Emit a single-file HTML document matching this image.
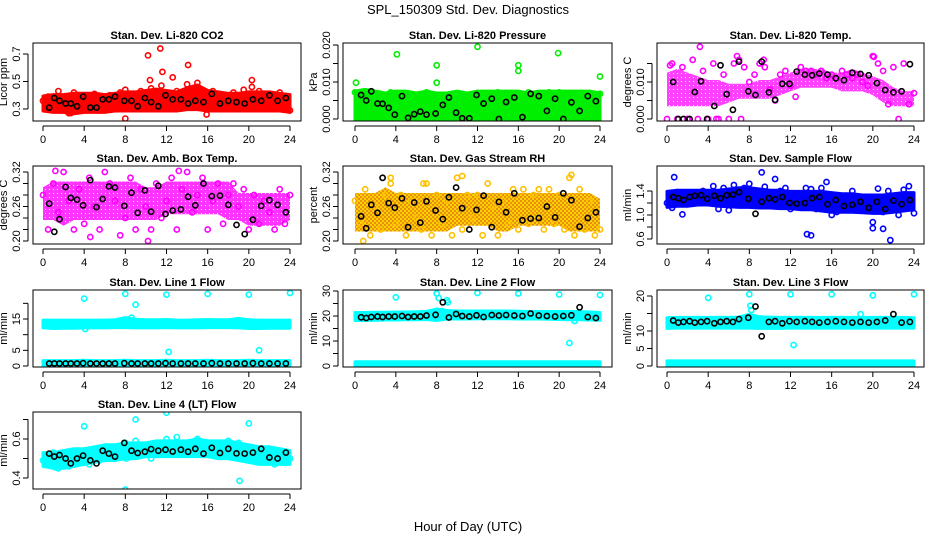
<!DOCTYPE html>
<html><head><meta charset="utf-8"><style>
body{margin:0;background:#fff}
svg{display:block;font-family:"Liberation Sans",sans-serif}
</style></head><body>
<svg id="c" width="936" height="540" viewBox="0 0 936 540">
<defs>
<pattern id="rh-hatch" width="4" height="4" patternUnits="userSpaceOnUse"><rect width="4" height="4" fill="#ffd000"/><rect width="2" height="2" fill="#e89010"/><rect x="2" y="2" width="2" height="2" fill="#e89010"/></pattern>
<pattern id="dot-mag" width="4" height="4" patternUnits="userSpaceOnUse"><rect width="4" height="4" fill="#ff00ff"/><rect x="1" y="1" width="1" height="1" fill="#fff"/></pattern>
</defs>
<text x="468" y="14" font-size="13" text-anchor="middle">SPL_150309  Std. Dev. Diagnostics</text>
<text x="468" y="531" font-size="13" text-anchor="middle">Hour of Day (UTC)</text>
</svg>
<script>
const bandHours=[0,1,2,3,4,5,6,7,8,9,10,11,12,13,14,15,16,17,18,19,20,21,22,23,24];
const ptHours=[0,0.5,1,1.5,2,2.5,3,3.5,4,4.5,5,5.5,6,6.5,7,7.5,8,8.5,9,9.5,10,10.5,11,11.5,12,12.5,13,13.5,14,14.5,15,15.5,16,16.5,17,17.5,18,18.5,19,19.5,20,20.5,21,21.5,22,22.5,23,23.5,24];
const blackHours=[0.6,1.1,1.6,2.2,2.7,3.3,3.9,4.6,5.2,5.8,6.4,7.0,7.9,8.6,9.2,9.9,10.5,11.2,11.9,12.6,13.4,14.1,14.8,15.6,16.4,17.2,18.0,18.8,19.6,20.4,21.2,22.0,22.8,23.6];

// Panel 1: CO2
const co2Lo=[0.30,0.29,0.29,0.28,0.29,0.29,0.29,0.30,0.30,0.30,0.30,0.30,0.30,0.30,0.31,0.31,0.30,0.30,0.30,0.30,0.30,0.30,0.30,0.30,0.29];
const co2Hi=[0.38,0.39,0.39,0.40,0.40,0.40,0.39,0.40,0.41,0.41,0.42,0.43,0.42,0.41,0.44,0.46,0.42,0.41,0.40,0.40,0.41,0.41,0.41,0.40,0.39];
const co2Pts=[0.36,0.39,0.33,0.43,0.31,0.37,0.42,0.30,0.39,0.34,0.41,0.29,0.37,0.40,0.33,0.42,0.44,0.31,0.38,0.43,0.35,0.45,0.32,0.47,0.40,0.30,0.43,0.36,0.48,0.33,0.49,0.41,0.37,0.43,0.32,0.40,0.36,0.42,0.31,0.44,0.38,0.34,0.43,0.30,0.41,0.36,0.42,0.32,0.29];
const co2OutX=[10.2,10.4,11.4,11.6,12.6,14.1,20.3,20.3,8.0,15.9,2.5,2.7];
const co2OutY=[0.69,0.51,0.74,0.57,0.53,0.62,0.51,0.46,0.23,0.26,0.27,0.27];
const co2Black=[0.31,0.38,0.36,0.34,0.34,0.32,0.39,0.31,0.31,0.37,0.37,0.39,0.36,0.36,0.32,0.38,0.35,0.32,0.40,0.37,0.37,0.34,0.36,0.35,0.41,0.34,0.36,0.35,0.34,0.37,0.36,0.40,0.36,0.38];

// Panel 2: pressure
const prsLo=[0,0,0,0,0,0,0,0,0,0,0,0,0,0,0,0,0,0,0,0,0,0,0,0,0];
const prsHi=[0.007,0.0075,0.007,0.0065,0.007,0.007,0.0065,0.007,0.0065,0.0065,0.007,0.0065,0.007,0.007,0.007,0.007,0.007,0.0065,0.007,0.007,0.007,0.007,0.007,0.007,0.0065];
const prsPts=[0.0072,0.003,0.0065,0.0,0.0045,0.006,0.0,0.0072,0.0068,0.002,0.0062,0.0035,0.0,0.0065,0.0072,0.003,0.0065,0.0,0.0065,0.0055,0.0068,0.0015,0.0065,0.004,0.007,0.003,0.0068,0.0,0.0072,0.0055,0.0062,0.002,0.0068,0.0045,0.0072,0.0,0.0068,0.006,0.0072,0.003,0.0072,0.0045,0.0065,0.0,0.007,0.0035,0.0065,0.006,0.0068];
const prsOutX=[0.1,4.1,8.0,8.0,12.0,16.0,16.0,19.9,24.0];
const prsOutY=[0.0098,0.0175,0.0145,0.0098,0.0195,0.0145,0.013,0.0178,0.0115];
const prsBlack=[0.0065,0.005,0.0075,0.0042,0.0041,0.003,0.0012,0.0062,0.0003,0.0013,0.002,0.0012,0.0015,0.0038,0.0058,0.0017,0.0002,0.0002,0.0065,0.0042,0.0055,0.0,0.0046,0.0058,0.0005,0.0068,0.0062,0.0022,0.0055,0.0,0.0045,0.0022,0.0062,0.0048];

// Panel 3: Li-820 temp
const ltLo=[0.004,0.004,0.004,0.004,0.004,0.004,0.005,0.006,0.006,0.006,0.006,0.007,0.008,0.009,0.009,0.009,0.009,0.008,0.008,0.008,0.007,0.005,0.004,0.004,0.004];
const ltHi=[0.012,0.013,0.012,0.011,0.010,0.010,0.009,0.009,0.009,0.010,0.010,0.011,0.012,0.013,0.013,0.013,0.012,0.012,0.013,0.012,0.011,0.010,0.008,0.007,0.007];
const ltPts=[0.0,0.015,0.0,0.014,0.0,0.016,0.0,0.013,0.0,0.015,0.0,0.012,0.0,0.015,0.016,0.014,0.010,0.012,0.015,0.014,0.008,0.005,0.012,0.013,0.009,0.006,0.014,0.013,0.013,0.012,0.013,0.011,0.012,0.011,0.013,0.012,0.011,0.012,0.010,0.009,0.017,0.015,0.013,0.004,0.014,0.0,0.015,0.004,0.007];
const ltOutX=[3.2,6.8,9.4,20.1,0.3,2.0,4.8,7.2];
const ltOutY=[0.0195,0.017,0.016,0.0168,0.0145,0.0,0.0,0.0];
const ltBlack=[0.010,0.0,0.0,0.0,0.0073,0.0102,0.0,0.0035,0.0145,0.0067,0.0025,0.0155,0.0075,0.0065,0.0155,0.0072,0.0052,0.0095,0.0095,0.0128,0.012,0.0118,0.0123,0.012,0.011,0.0105,0.0125,0.0122,0.0118,0.0097,0.0078,0.0072,0.0075,0.0148];

// Panel 4: amb box temp
const abLo=[0.24,0.24,0.23,0.24,0.24,0.24,0.24,0.24,0.24,0.24,0.24,0.24,0.25,0.25,0.25,0.25,0.25,0.25,0.24,0.24,0.23,0.23,0.23,0.23,0.24];
const abHi=[0.29,0.30,0.30,0.30,0.30,0.30,0.30,0.30,0.30,0.30,0.29,0.29,0.30,0.30,0.30,0.30,0.30,0.30,0.30,0.28,0.28,0.28,0.28,0.28,0.28];
const abPts=[0.28,0.22,0.30,0.25,0.32,0.27,0.22,0.29,0.23,0.31,0.26,0.22,0.32,0.30,0.27,0.21,0.24,0.31,0.22,0.29,0.26,0.22,0.30,0.24,0.27,0.31,0.22,0.29,0.32,0.25,0.28,0.31,0.22,0.27,0.30,0.23,0.28,0.30,0.26,0.29,0.22,0.28,0.23,0.27,0.25,0.22,0.29,0.23,0.28];
const abOutX=[4.6,10.2,13.2,1.2];
const abOutY=[0.207,0.200,0.322,0.322];
const abBlack=[0.265,0.216,0.238,0.294,0.275,0.272,0.262,0.306,0.259,0.273,0.295,0.293,0.261,0.284,0.249,0.288,0.251,0.296,0.247,0.253,0.255,0.277,0.262,0.300,0.278,0.279,0.263,0.228,0.212,0.237,0.261,0.271,0.263,0.250];

// Panel 5: gas stream RH
const rhLo=[0.22,0.22,0.22,0.22,0.22,0.22,0.22,0.22,0.22,0.22,0.23,0.23,0.23,0.23,0.22,0.22,0.23,0.23,0.23,0.23,0.23,0.22,0.22,0.22,0.22];
const rhHi=[0.28,0.28,0.28,0.29,0.28,0.28,0.28,0.28,0.28,0.28,0.28,0.28,0.28,0.28,0.28,0.28,0.28,0.28,0.28,0.28,0.28,0.28,0.28,0.28,0.27];
const rhPts=[0.27,0.23,0.29,0.21,0.26,0.22,0.28,0.30,0.23,0.28,0.21,0.27,0.24,0.22,0.30,0.21,0.28,0.23,0.27,0.21,0.31,0.22,0.28,0.24,0.28,0.21,0.30,0.26,0.21,0.27,0.23,0.29,0.22,0.29,0.23,0.28,0.29,0.22,0.29,0.23,0.28,0.22,0.31,0.21,0.29,0.22,0.27,0.21,0.22];
const rhOutX=[0.8,3.5,10.5,21.2,6.7];
const rhOutY=[0.200,0.310,0.313,0.315,0.300];
const rhBlack=[0.243,0.222,0.263,0.249,0.310,0.266,0.258,0.274,0.224,0.267,0.232,0.269,0.253,0.238,0.276,0.293,0.257,0.220,0.254,0.279,0.224,0.268,0.250,0.283,0.236,0.239,0.240,0.260,0.241,0.283,0.271,0.225,0.240,0.250];

// Panel 6: sample flow
const sfLo=[1.16,1.18,1.18,1.20,1.20,1.18,1.17,1.16,1.16,1.15,1.15,1.14,1.14,1.12,1.12,1.10,1.08,1.08,1.08,1.07,1.06,1.06,1.08,1.10,1.12];
const sfHi=[1.36,1.38,1.38,1.38,1.38,1.38,1.40,1.42,1.42,1.40,1.38,1.38,1.36,1.36,1.36,1.36,1.34,1.32,1.32,1.30,1.30,1.30,1.32,1.34,1.34];
const sfPts=[1.20,1.12,1.38,1.01,1.30,1.36,1.22,1.40,1.30,1.48,1.10,1.45,1.08,1.50,1.40,1.45,1.52,1.20,1.40,1.47,1.38,1.60,1.40,1.45,1.10,1.30,1.22,1.45,1.43,1.10,1.45,1.55,1.00,1.05,1.15,1.08,1.40,1.22,1.30,1.12,0.88,1.44,1.05,1.40,1.30,1.00,1.42,1.48,1.03];
const sfOutX=[13.6,14.0,21.7,20.0,21.0,9.2,0.7];
const sfOutY=[0.68,0.66,0.58,0.78,0.77,1.71,1.63];
const sfBlack=[1.30,1.28,1.25,1.30,1.32,1.33,1.27,1.32,1.28,1.33,1.34,1.38,1.27,1.02,1.22,1.28,1.26,1.30,1.20,1.19,1.20,1.28,1.30,1.18,1.25,1.15,1.17,1.22,1.12,1.22,1.10,1.24,1.18,1.25];

// Panel 7: Line 1 flow
const l1Lo=[12.8,12.6,12.7,12.7,12.8,12.8,12.8,12.9,12.9,12.8,12.8,12.8,12.9,12.8,12.8,12.8,12.9,12.9,12.9,12.8,12.6,12.6,12.7,12.7,12.7];
const l1Hi=[14.0,14.0,14.0,14.0,14.0,14.0,14.0,14.1,14.8,14.3,14.1,14.1,14.2,14.0,14.0,14.1,14.2,14.1,14.1,14.6,14.1,14.0,14.0,14.0,14.0];
const l1Lo2=[0.3,0.3,0.3,0.3,0.3,0.3,0.3,0.3,0.3,0.3,0.3,0.3,0.3,0.3,0.3,0.3,0.3,0.3,0.3,0.3,0.3,0.3,0.3,0.3,0.3];
const l1Hi2=[1.1,1.1,1.1,1.1,1.2,1.1,1.1,1.1,1.2,1.1,1.1,1.1,1.2,1.1,1.1,1.1,1.2,1.1,1.1,1.1,1.2,1.1,1.1,1.1,1.1];
const l1OutX=[4,8,12,16,20,24,9,12.2,21,4.1,8.6];
const l1OutY=[21.5,23,22.8,23,22.8,23.3,19.6,4.5,5.0,11.8,15.4];
const l1Black=[0.8,0.8,0.8,0.8,0.8,0.8,0.9,0.8,0.8,0.8,0.8,0.8,0.9,0.8,0.8,0.8,0.8,0.8,0.9,0.8,0.8,0.8,0.8,0.8,0.9,0.8,0.8,0.8,0.8,0.9,0.8,0.8,0.8,0.8];

// Panel 8: Line 2 flow
const l2Lo=[19.0,19.0,19.1,19.2,19.2,19.3,19.3,19.4,19.0,19.6,19.6,19.6,19.7,19.7,19.7,19.7,19.6,19.6,19.6,19.5,19.4,19.3,19.3,19.2,19.1];
const l2Hi=[20.6,20.6,20.7,20.7,20.8,20.8,20.9,21.0,22.0,21.4,21.2,21.2,21.2,21.2,21.2,21.2,21.1,21.0,21.0,21.0,21.0,21.0,21.0,20.8,20.6];
const l2Lo2=[0.2,0.2,0.2,0.2,0.2,0.2,0.2,0.2,0.2,0.2,0.2,0.2,0.2,0.2,0.2,0.2,0.2,0.2,0.2,0.2,0.2,0.2,0.2,0.2,0.2];
const l2Hi2=[0.9,0.9,0.9,0.9,0.9,0.9,0.9,0.9,0.9,0.9,0.9,0.9,0.9,0.9,0.9,0.9,0.9,0.9,0.9,0.9,0.9,0.9,0.9,0.9,0.9];
const l2OutX=[4,8,12,16,20,24,8.2,9.0,9.1,21.0,21.5,8.5];
const l2OutY=[27.5,29.0,29.2,29.0,28.6,28.4,27.2,26.3,25.5,9.2,18.0,22.0];
const l2Black=[19.5,19.2,19.6,19.8,19.6,19.8,19.8,20.0,19.6,19.8,19.8,20.2,20.5,25.5,19.4,20.8,20.0,19.8,20.3,19.6,20.4,20.2,20.4,20.2,20.0,21.0,20.2,20.0,19.8,20.0,20.3,23.5,19.6,19.2];

// Panel 9: Line 3 flow
const l3Lo=[11.3,11.4,11.4,11.4,11.4,11.4,11.4,11.4,11.4,11.3,11.3,11.3,11.4,11.4,11.4,11.4,11.4,11.4,11.4,11.4,11.4,11.4,11.4,11.4,11.4];
const l3Hi=[13.2,13.3,13.3,13.3,13.3,13.3,13.3,13.4,14.2,13.5,13.4,13.3,13.3,13.3,13.3,13.3,13.3,13.3,13.3,13.3,13.3,13.3,13.3,13.3,13.2];
const l3Lo2=[0.2,0.2,0.2,0.2,0.2,0.2,0.2,0.2,0.2,0.2,0.2,0.2,0.2,0.2,0.2,0.2,0.2,0.2,0.2,0.2,0.2,0.2,0.2,0.2,0.2];
const l3Hi2=[0.9,0.9,0.9,0.9,0.9,0.9,0.9,0.9,0.9,0.9,0.9,0.9,0.9,0.9,0.9,0.9,0.9,0.9,0.9,0.9,0.9,0.9,0.9,0.9,0.9];
const l3OutX=[4,8,12,16,20,24,8.1,8.2,12.3,18.8,8.5];
const l3OutY=[19.5,20.5,20.5,20.5,20.2,20.5,17.2,16.0,6.0,14.8,11.5];
const l3Black=[13.0,12.4,12.6,12.8,12.4,12.6,12.8,12.2,12.6,12.8,12.6,13.4,13.8,17.0,8.5,12.6,12.8,12.2,12.8,12.6,12.8,12.6,12.4,12.6,12.8,12.6,12.4,12.6,12.4,12.6,13.0,14.8,12.4,12.6];

// Panel 10: Line 4 (LT) flow
const l4Lo=[0.47,0.46,0.46,0.47,0.48,0.49,0.50,0.50,0.51,0.51,0.52,0.52,0.52,0.52,0.52,0.52,0.52,0.51,0.51,0.50,0.49,0.48,0.48,0.48,0.48];
const l4Hi=[0.52,0.52,0.53,0.54,0.54,0.55,0.56,0.56,0.57,0.57,0.57,0.58,0.58,0.58,0.58,0.59,0.58,0.58,0.58,0.57,0.56,0.55,0.55,0.54,0.53];
const l4Pts=[0.49,0.47,0.53,0.45,0.50,0.46,0.52,0.48,0.54,0.47,0.53,0.49,0.55,0.50,0.56,0.52,0.58,0.54,0.59,0.52,0.57,0.50,0.58,0.52,0.60,0.54,0.61,0.53,0.58,0.55,0.60,0.53,0.58,0.56,0.54,0.57,0.59,0.53,0.58,0.51,0.56,0.52,0.55,0.49,0.54,0.47,0.53,0.49,0.50];
const l4OutX=[4,8.0,9.0,12.0,20,19.1,8.1,1.2];
const l4OutY=[0.665,0.340,0.700,0.735,0.680,0.385,0.500,0.455];
const l4Black=[0.525,0.510,0.518,0.500,0.475,0.500,0.515,0.490,0.475,0.540,0.525,0.510,0.580,0.540,0.528,0.535,0.548,0.540,0.545,0.536,0.545,0.535,0.550,0.525,0.555,0.528,0.550,0.526,0.525,0.530,0.550,0.505,0.500,0.530];

const NS="http://www.w3.org/2000/svg";
const svg=document.getElementById('c');
function mk(tag,attrs,parent){const e=document.createElementNS(NS,tag);for(const k in attrs)e.setAttribute(k,attrs[k]);(parent||svg).appendChild(e);return e;}

const panels=[
 {key:'co2',title:'Stan. Dev. Li-820 CO2',ylab:'Licor ppm',box:[33,301,43,121],x0:43,x24:290,ya:[0.3,109],yb:[0.7,54],ticks:[0.3,0.5,0.7],labels:['0.3','0.5','0.7'],col:'#ff0000',bands:[[co2Lo,co2Hi]],pts:co2Pts,ox:co2OutX,oy:co2OutY,blk:co2Black},
 {key:'pressure',title:'Stan. Dev. Li-820 Pressure',ylab:'kPa',box:[343,612,43,121],x0:355,x24:600,ya:[0,119],yb:[0.02,45],ticks:[0,0.005,0.01,0.015,0.02],labels:['0.000','','0.010','','0.020'],col:'#00ee00',bands:[[prsLo,prsHi]],pts:prsPts,ox:prsOutX,oy:prsOutY,blk:prsBlack},
 {key:'li-temp',title:'Stan. Dev. Li-820 Temp.',ylab:'degrees C',box:[657,924,43,121],x0:667,x24:914,ya:[0,119],yb:[0.01,82],ticks:[0,0.005,0.01,0.015],labels:['0.000','','0.010',''],col:'#ff00ff',band:'url(#dot-mag)',op:0.75,bands:[[ltLo,ltHi]],pts:ltPts,ox:ltOutX,oy:ltOutY,blk:ltBlack},
 {key:'amb-box',title:'Stan. Dev. Amb. Box Temp.',ylab:'degrees C',box:[33,301,166,244],x0:43,x24:290,ya:[0.2,241],yb:[0.32,172],ticks:[0.2,0.22,0.24,0.26,0.28,0.3,0.32],labels:['0.20','','','0.26','','','0.32'],col:'#ff00ff',band:'url(#dot-mag)',op:0.8,bands:[[abLo,abHi]],pts:abPts,ox:abOutX,oy:abOutY,blk:abBlack},
 {key:'gas-rh',title:'Stan. Dev. Gas Stream RH',ylab:'percent',box:[343,612,166,244],x0:355,x24:600,ya:[0.2,241],yb:[0.32,172],ticks:[0.2,0.22,0.24,0.26,0.28,0.3,0.32],labels:['0.20','','','0.26','','','0.32'],col:'#ffc000',band:'url(#rh-hatch)',bands:[[rhLo,rhHi]],pts:rhPts,ox:rhOutX,oy:rhOutY,blk:rhBlack},
 {key:'sample-flow',title:'Stan. Dev. Sample Flow',ylab:'ml/min',box:[657,924,166,244],x0:667,x24:914,ya:[0.6,239],yb:[1.4,191],ticks:[0.6,0.8,1.0,1.2,1.4],labels:['0.6','','1.0','','1.4'],col:'#0000ff',bands:[[sfLo,sfHi]],pts:sfPts,ox:sfOutX,oy:sfOutY,blk:sfBlack},
 {key:'line1',title:'Stan. Dev. Line 1 Flow',ylab:'ml/min',box:[33,301,290,367],x0:43,x24:290,ya:[0,366],yb:[15,319],ticks:[0,5,10,15,20],labels:['0','5','','15',''],col:'#00ffff',bands:[[l1Lo,l1Hi],[l1Lo2,l1Hi2]],pts:null,ox:l1OutX,oy:l1OutY,blk:l1Black},
 {key:'line2',title:'Stan. Dev. Line 2 Flow',ylab:'ml/min',box:[343,612,290,367],x0:355,x24:600,ya:[0,366],yb:[30,291],ticks:[0,5,10,15,20,25,30],labels:['0','','10','','20','','30'],col:'#00ffff',bands:[[l2Lo,l2Hi],[l2Lo2,l2Hi2]],pts:null,ox:l2OutX,oy:l2OutY,blk:l2Black},
 {key:'line3',title:'Stan. Dev. Line 3 Flow',ylab:'ml/min',box:[657,924,290,367],x0:667,x24:914,ya:[0,366],yb:[20,296],ticks:[0,5,10,15,20],labels:['0','5','10','','20'],col:'#00ffff',bands:[[l3Lo,l3Hi],[l3Lo2,l3Hi2]],pts:null,ox:l3OutX,oy:l3OutY,blk:l3Black},
 {key:'line4',title:'Stan. Dev. Line 4 (LT) Flow',ylab:'ml/min',box:[33,301,412,489],x0:43,x24:290,ya:[0.4,478],yb:[0.6,439],ticks:[0.4,0.5,0.6,0.7],labels:['0.4','','0.6',''],col:'#00ffff',bands:[[l4Lo,l4Hi]],pts:l4Pts,ox:l4OutX,oy:l4OutY,blk:l4Black}
];

panels.forEach(p=>{
  const g=mk('g',{});
  
  
  const [bx0,bx1,by0,by1]=p.box;
  const X=h=>p.x0+(p.x24-p.x0)*h/24;
  const Y=v=>p.ya[1]+(v-p.ya[0])*(p.yb[1]-p.ya[1])/(p.yb[0]-p.ya[0]);
  const clip='clip-'+p.key;
  const cp=mk('clipPath',{id:clip},g);mk('rect',{x:bx0,y:by0,width:bx1-bx0,height:by1-by0},cp);
  const data=mk('g',{'clip-path':'url(#'+clip+')'},g);
  
  
  p.bands.forEach(b=>{
    let d='';
    bandHours.forEach((h,i)=>{d+=(i?'L':'M')+X(h).toFixed(1)+','+(Y(b[1][i])-2).toFixed(1);});
    for(let i=bandHours.length-1;i>=0;i--)d+='L'+X(bandHours[i]).toFixed(1)+','+(Y(b[0][i])+2).toFixed(1);
    const f=p.band||p.col;
    const pa=mk('path',{d:d+'Z',fill:f,stroke:p.band?'none':p.col,'stroke-width':3,'stroke-linejoin':'round','fill-opacity':p.op||1},data);
    
    
  });
  const circ=(x,y,c,nm)=>{const e=mk('circle',{cx:X(x).toFixed(1),cy:Y(y).toFixed(1),r:2.6,fill:'none',stroke:c,'stroke-width':1.6},data);
    
    };
  if(p.pts)p.pts.forEach((v,i)=>circ(ptHours[i],v,p.col,'point-'+p.key));
  p.ox.forEach((x,i)=>circ(x,p.oy[i],p.col,'outlier-'+p.key));
  p.blk.forEach((v,i)=>circ(blackHours[i],v,'#000','hourly-point-'+p.key));
  const r=mk('rect',{x:bx0,y:by0,width:bx1-bx0,height:by1-by0,fill:'none',stroke:'#000','stroke-width':1},g);
  
  
  const t=mk('text',{x:(bx0+bx1)/2,y:by0-4,'font-size':11,'font-weight':'bold','text-anchor':'middle'},g);t.textContent=p.title;
  
  
  const xa=mk('g',{},g);
  
  
  mk('line',{x1:X(0),x2:X(24),y1:by1+5,y2:by1+5,stroke:'#000'},xa);
  for(let h=0;h<=24;h+=4){
    mk('line',{x1:X(h),x2:X(h),y1:by1+5,y2:by1+10,stroke:'#000'},xa);
    const tl=mk('text',{x:X(h),y:by1+22,'font-size':11,'text-anchor':'middle'},xa);tl.textContent=h;
    
    
  }
  const ya=mk('g',{},g);
  
  
  const ax=bx0-5;
  mk('line',{x1:ax,x2:ax,y1:Y(p.ticks[0]),y2:Y(p.ticks[p.ticks.length-1]),stroke:'#000'},ya);
  p.ticks.forEach((v,i)=>{
    mk('line',{x1:ax-5,x2:ax,y1:Y(v),y2:Y(v),stroke:'#000'},ya);
    if(p.labels[i]){const tl=mk('text',{x:0,y:0,'font-size':11,'text-anchor':'middle',transform:`translate(${ax-8},${Y(v)}) rotate(-90)`},ya);tl.textContent=p.labels[i];
      
      }
  });
  const yl=mk('text',{x:0,y:0,'font-size':11,'text-anchor':'middle',transform:`translate(${bx0-26},${(by0+by1)/2}) rotate(-90)`},g);yl.textContent=p.ylab;
  
  
});
</script>
</body></html>
